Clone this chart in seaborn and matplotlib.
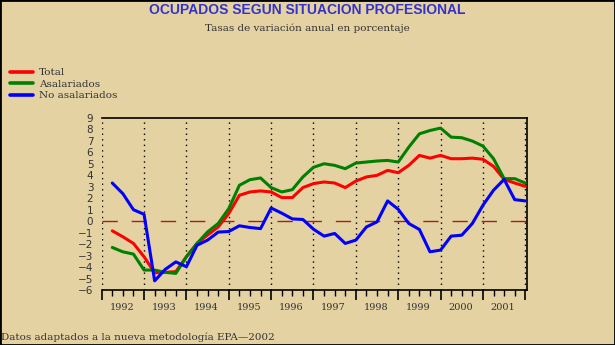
import numpy as np
import pandas as pd
import matplotlib
matplotlib.use("Agg")
import matplotlib.pyplot as plt
import matplotlib.transforms as mtransforms
from matplotlib.patches import Rectangle
import seaborn as sns

# ---- data (quarterly, year-on-year % change) ----
years = ["1992", "1993", "1994", "1995", "1996", "1997", "1998", "1999", "2000", "2001"]
quarter_idx = list(range(1, 41))

total = [-0.84, -1.36, -1.94, -3.10, -4.50, -4.46, -4.40, -3.10, -1.94, -1.20,
         -0.50, 0.67, 2.26, 2.55, 2.64, 2.55, 2.06, 2.06, 2.93, 3.28,
         3.42, 3.33, 2.93, 3.50, 3.86, 4.00, 4.43, 4.23, 4.87, 5.74,
         5.50, 5.74, 5.45, 5.45, 5.50, 5.40, 4.78, 3.65, 3.33, 3.04]
asalariados = [-2.29, -2.67, -2.87, -4.26, -4.26, -4.46, -4.55, -3.10, -1.94, -0.93,
               -0.20, 1.10, 3.13, 3.62, 3.77, 2.93, 2.55, 2.75, 3.86, 4.70,
               5.01, 4.87, 4.58, 5.07, 5.16, 5.25, 5.30, 5.16, 6.46, 7.62,
               7.91, 8.12, 7.33, 7.28, 6.99, 6.55, 5.45, 3.71, 3.71, 3.33]
no_asalariados = [3.33, 2.40, 1.00, 0.60, -5.20, -4.20, -3.55, -3.97, -2.10, -1.65,
                  -0.95, -0.90, -0.40, -0.55, -0.65, 1.15, 0.70, 0.20, 0.15, -0.70,
                  -1.30, -1.07, -1.94, -1.65, -0.50, -0.06, 1.77, 1.04, -0.20, -0.72,
                  -2.67, -2.52, -1.30, -1.22, -0.20, 1.39, 2.70, 3.65, 1.88, 1.77]

series_names = ["Total", "Asalariados", "No asalariados"]
colors = ["#FF0000", "#008000", "#0000FF"]

df = pd.DataFrame({
    "q": quarter_idx * 3,
    "valor": total + asalariados + no_asalariados,
    "serie": [series_names[0]] * 40 + [series_names[1]] * 40 + [series_names[2]] * 40,
})

BG = "#E5D2A3"
TXT = "#333333"
sns.set_theme(style="white")
plt.rcParams["font.family"] = ["DejaVu Serif"]

fig = plt.figure(figsize=(6.15, 3.45), dpi=100, facecolor=BG)
ax = fig.add_axes([101.7 / 615, 1 - 290 / 345, (527.3 - 101.7) / 615, (290 - 118) / 345])
ax.set_facecolor(BG)

sns.lineplot(data=df, x="q", y="valor", hue="serie", hue_order=series_names,
             palette=colors, linewidth=2.2, ax=ax, legend=True, zorder=3)

ax.set_xlim(0, 40.19)
ax.set_ylim(-6, 9)
ax.set_xlabel("")
ax.set_ylabel("")

# zero line and year separators
ax.axhline(0, color="#A02020", lw=1.0, dashes=(11, 10), zorder=1)
for b in range(0, 41, 4):
    ax.axvline(b, color="black", lw=1.0, dashes=(1, 3), zorder=1)

# spines
ax.spines["left"].set_visible(False)
for s in ["top", "right", "bottom"]:
    ax.spines[s].set_visible(True)
    ax.spines[s].set_color("black")
    ax.spines[s].set_linewidth(1.2)

# ticks
ax.set_yticks(range(-6, 10))
ax.set_yticklabels([str(v).replace("-", "\u2212") for v in range(-6, 10)],
                   fontfamily="DejaVu Sans", fontsize=7.5, color=TXT)
ax.tick_params(axis="y", length=0, pad=6)
ax.set_xticks(range(0, 41, 4))
ax.set_xticks(range(0, 41), minor=True)
ax.set_xticklabels([])
ax.tick_params(axis="x", which="major", direction="out", length=7, width=1.2, color="black", bottom=True)
ax.tick_params(axis="x", which="minor", direction="out", length=4, width=1.0, color="black", bottom=True)

trans = mtransforms.blended_transform_factory(ax.transData, fig.transFigure)
for i, y in enumerate(years):
    ax.text(4 * i + 1.9, 1 - 308 / 345, y, transform=trans, ha="center", va="center",
            fontsize=7, color=TXT)

# legend
handles, labels = ax.get_legend_handles_labels()
leg = ax.legend(handles, labels, loc="upper left", bbox_to_anchor=(6 / 615, 1 - 64 / 345),
                bbox_transform=fig.transFigure, frameon=False, fontsize=7.5,
                handlelength=2.2, handletextpad=0.6, labelspacing=0.2, borderaxespad=0)
for t in leg.get_texts():
    t.set_color(TXT)
for l in leg.get_lines():
    l.set_linewidth(2.6)

# titles
fig.text(307 / 615, 1 - 10 / 345, "OCUPADOS SEGUN SITUACION PROFESIONAL", ha="center", va="center",
         fontsize=10, fontweight="bold", color="#3333CC", fontfamily="Liberation Sans")
fig.text(307 / 615, 1 - 28 / 345, "Tasas de variación anual en porcentaje", ha="center", va="center",
         fontsize=7.5, color=TXT)
fig.text(1 / 615, 1 - 337 / 345, "Datos adaptados a la nueva metodología EPA\u20142002", ha="left", va="center",
         fontsize=7.5, color=TXT)

# frame around the figure
fig.patches.append(Rectangle((0, 0), 1, 1, transform=fig.transFigure, fill=False,
                             edgecolor="black", lw=2, zorder=10))

fig.savefig("out.png", dpi=100, facecolor=BG)
